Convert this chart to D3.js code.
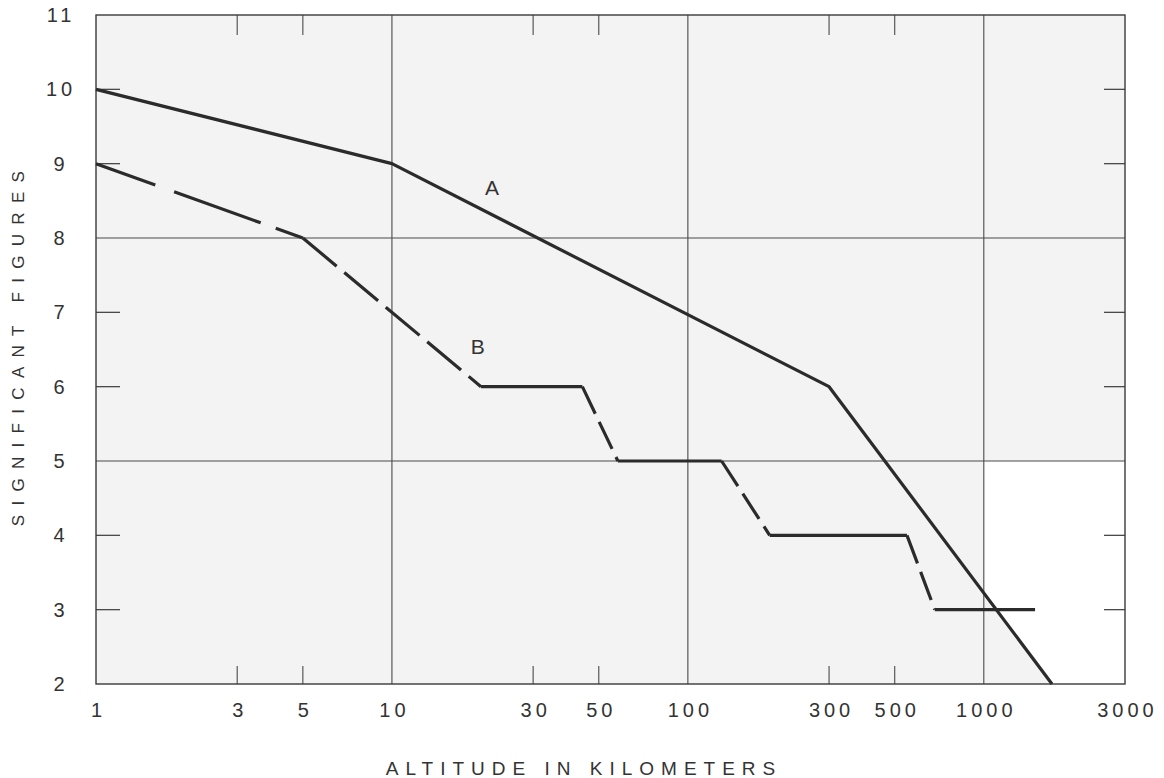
<!DOCTYPE html>
<html>
<head>
<meta charset="utf-8">
<script src="https://cdn.jsdelivr.net/npm/d3@7"></script>
<style>
  html, body { margin: 0; padding: 0; background: #fff; }
  svg { display: block; }
  text { font-family: "Liberation Sans", "DejaVu Sans", sans-serif; fill: #333; }
</style>
</head>
<body>
<svg id="chart" width="1164" height="778"></svg>
<script>
// Altitude (km) tick values and labels along the log axis
const xTickValues = [1, 3, 5, 10, 30, 50, 100, 300, 500, 1000, 3000];
const xTickLabels = ["1", "3", "5", "10", "30", "50", "100", "300", "500", "1000", "3000"];
const xGridValues = [10, 100, 1000];
const xMinorValues = [3, 5, 30, 50, 300, 500];

// Significant-figure ticks
const yTickValues = [2, 3, 4, 5, 6, 7, 8, 9, 10, 11];
const yGridValues = [5, 8];
const yMinorValues = [3, 4, 6, 7, 9, 10];

// Curve A (solid)
const altA = [1, 10, 300, 1700];
const sigA = [10, 9, 6, 2];

// Curve B (dashed where it steps down, solid on the plateaus)
const altB = [1, 5, 20, 44, 58, 130, 189, 550, 683, 1490];
const sigB = [9, 8, 6, 6, 5, 5, 4, 4, 3, 3];

(function () {
const svg = d3.select("#chart");
const pLeft = 96, pRight = 1125, pTop = 15, pBottom = 684;

const x = d3.scaleLog().domain([1, 3000]).range([pLeft, pRight]);
const y = d3.scaleLinear().domain([2, 11]).range([pBottom, pTop]);

// Paper shading of the plotting field
svg.append("rect")
  .attr("x", pLeft).attr("y", pTop)
  .attr("width", pRight - pLeft).attr("height", pBottom - pTop)
  .attr("fill", "#f3f3f3");

// Unshaded corner: right of both the 1000 km line and curve A, below 5
let crossSig = null;
for (let i = 0; i < altA.length - 1; i++) {
  if (altA[i] <= 1000 && altA[i + 1] >= 1000) {
    const t = (Math.log10(1000) - Math.log10(altA[i])) /
              (Math.log10(altA[i + 1]) - Math.log10(altA[i]));
    crossSig = sigA[i] + t * (sigA[i + 1] - sigA[i]);
  }
}
const cornerPts = [
  [1000, 5], [3000, 5], [3000, 2],
  [altA[altA.length - 1], sigA[sigA.length - 1]],
  [1000, crossSig]
];
svg.append("path")
  .attr("d", d3.line().x(d => x(d[0])).y(d => y(d[1]))(cornerPts) + "Z")
  .attr("fill", "#ffffff");

const ink = "#4a4a4a";

// Full-height grid lines at the decades
svg.append("g").attr("stroke", ink).attr("stroke-width", 1.1)
  .selectAll("line").data(xGridValues).join("line")
  .attr("x1", d => x(d)).attr("x2", d => x(d))
  .attr("y1", pTop).attr("y2", pBottom);

// Full-width grid lines at 5 and 8
svg.append("g").attr("stroke", ink).attr("stroke-width", 1.1)
  .selectAll("line").data(yGridValues).join("line")
  .attr("x1", pLeft).attr("x2", pRight)
  .attr("y1", d => y(d)).attr("y2", d => y(d));

// Short inner ticks on all four sides
svg.append("g").attr("stroke", ink).attr("stroke-width", 1.1)
  .selectAll("line").data(xMinorValues).join("line")
  .attr("x1", d => x(d)).attr("x2", d => x(d))
  .attr("y1", pTop).attr("y2", pTop + 20);
svg.append("g").attr("stroke", ink).attr("stroke-width", 1.1)
  .selectAll("line").data(xMinorValues).join("line")
  .attr("x1", d => x(d)).attr("x2", d => x(d))
  .attr("y1", pBottom).attr("y2", pBottom - 18);
svg.append("g").attr("stroke", ink).attr("stroke-width", 1.3)
  .selectAll("line").data(yMinorValues).join("line")
  .attr("x1", pLeft).attr("x2", pLeft + 24)
  .attr("y1", d => y(d)).attr("y2", d => y(d));
svg.append("g").attr("stroke", ink).attr("stroke-width", 1.3)
  .selectAll("line").data(yMinorValues).join("line")
  .attr("x1", pRight).attr("x2", pRight - 21)
  .attr("y1", d => y(d)).attr("y2", d => y(d));

// Frame
svg.append("rect")
  .attr("x", pLeft).attr("y", pTop)
  .attr("width", pRight - pLeft).attr("height", pBottom - pTop)
  .attr("fill", "none").attr("stroke", "#3a3a3a").attr("stroke-width", 1.4);

// Tick labels via d3 axis generators (domain and tick lines hidden)
const xAxis = d3.axisBottom(x)
  .tickValues(xTickValues)
  .tickFormat((d, i) => xTickLabels[i])
  .tickSize(0).tickPadding(19);
const gx = svg.append("g").attr("transform", `translate(0,${pBottom})`).call(xAxis);
gx.select(".domain").remove();
gx.selectAll("text")
  .attr("dx", "2px")
  .style("font-family", '"Liberation Sans", "DejaVu Sans", sans-serif')
  .style("font-size", "20px").style("letter-spacing", "4px")
  .attr("fill", "#333");

const yAxis = d3.axisLeft(y)
  .tickValues(yTickValues)
  .tickFormat(d3.format("d"))
  .tickSize(0).tickPadding(0);
const gy = svg.append("g").attr("transform", "translate(61,0)").call(yAxis);
gy.select(".domain").remove();
gy.selectAll("text")
  .attr("text-anchor", "middle")
  .style("font-family", '"Liberation Sans", "DejaVu Sans", sans-serif')
  .style("font-size", "20px").style("letter-spacing", "4px")
  .attr("fill", "#333");

// Axis titles
svg.append("text")
  .attr("x", 584).attr("y", 775)
  .attr("text-anchor", "middle")
  .style("font-size", "19px").style("letter-spacing", "7px")
  .text("ALTITUDE IN KILOMETERS");

svg.append("text")
  .attr("transform", "translate(24,344) rotate(-90)")
  .attr("text-anchor", "middle")
  .style("font-size", "17px").style("letter-spacing", "9.3px")
  .text("SIGNIFICANT FIGURES");

// Curve A
const ptsA = altA.map((a, i) => [a, sigA[i]]);
svg.append("path")
  .attr("d", d3.line().x(d => x(d[0])).y(d => y(d[1]))(ptsA))
  .attr("fill", "none").attr("stroke", "#2b2b2b")
  .attr("stroke-width", 3.2).attr("stroke-linejoin", "round");

// Curve B, segment by segment
const ptsB = altB.map((a, i) => [a, sigB[i]]);
const segsB = d3.pairs(ptsB);
svg.append("g").selectAll("line").data(segsB).join("line")
  .attr("x1", d => x(d[0][0])).attr("y1", d => y(d[0][1]))
  .attr("x2", d => x(d[1][0])).attr("y2", d => y(d[1][1]))
  .attr("stroke", "#2b2b2b").attr("stroke-width", 3.2)
  .attr("stroke-dasharray", (d, i) => {
    if (d[0][1] === d[1][1]) return null;       // plateau: solid
    if (i === 0) return "63,20,92,16,60";          // first gentle slope
    if (i === 1) return "44,10";                   // long descent
    return "30,9";                                 // short steps
  });

// Curve names
svg.append("text")
  .attr("x", x(21.8)).attr("y", y(8.68)).attr("dy", "0.35em")
  .attr("text-anchor", "middle")
  .style("font-size", "21px")
  .text("A");
svg.append("text")
  .attr("x", x(19.5)).attr("y", y(6.54)).attr("dy", "0.35em")
  .attr("text-anchor", "middle")
  .style("font-size", "21px")
  .text("B");
})();
</script>
</body>
</html>
